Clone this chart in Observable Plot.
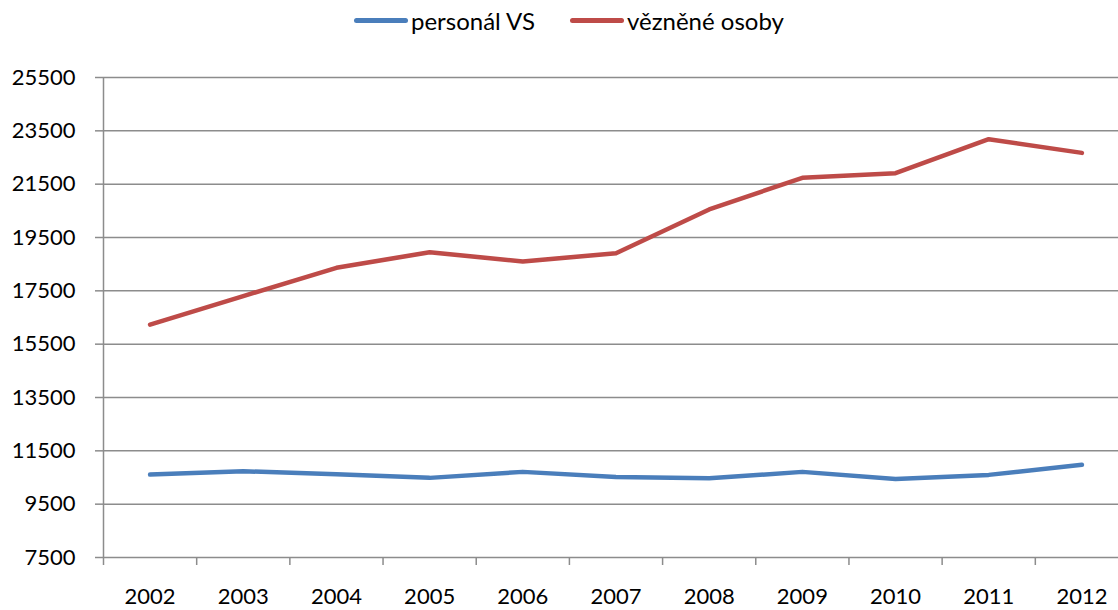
<!DOCTYPE html>
<html>
<head>
<meta charset="utf-8">
<script src="https://cdn.jsdelivr.net/npm/d3@7"></script>
<script src="https://cdn.jsdelivr.net/npm/@observablehq/plot@0.6"></script>
<style>
  html, body { margin: 0; padding: 0; background: #fff; overflow: hidden; width: 1118px; height: 610px; }
  #legend { height: 44px; display: flex; align-items: center; padding-left: 354px; padding-bottom: 4px; font-family: Lato, sans-serif; font-size: 24px; color: #000; box-sizing: border-box; }
  .item { display: flex; align-items: center; margin-right: 35px; }
  .sw { width: 54px; height: 5px; border-radius: 2.5px; margin-right: 3px; }
  #chart { width: 1118px; overflow: hidden; }
  #chart svg { display: block; max-width: none !important; }
</style>
</head>
<body>
<div id="legend"></div>
<div id="chart"></div>
<script>
const years = [2002, 2003, 2004, 2005, 2006, 2007, 2008, 2009, 2010, 2011, 2012];
const personal = [10610, 10734, 10621, 10486, 10711, 10523, 10471, 10711, 10448, 10598, 10974];
const vezneni = [16230, 17305, 18364, 18950, 18600, 18912, 20552, 21740, 21913, 23188, 22674];
const seriesNames = ["personál VS", "vězněné osoby"];
const seriesColors = ["#4A7EBB", "#BE4B48"];
const yTicks = [7500, 9500, 11500, 13500, 15500, 17500, 19500, 21500, 23500, 25500];

const data = [];
years.forEach((y, i) => {
  data.push({year: y, value: personal[i], series: seriesNames[0]});
  data.push({year: y, value: vezneni[i], series: seriesNames[1]});
});

const legend = document.getElementById("legend");
seriesNames.forEach((name, i) => {
  const it = document.createElement("div");
  it.className = "item";
  const sw = document.createElement("div");
  sw.className = "sw";
  sw.style.background = seriesColors[i];
  const tx = document.createElement("span");
  tx.textContent = name;
  it.appendChild(sw); it.appendChild(tx);
  legend.appendChild(it);
});

const boundaries = years.map(y => y - 0.5);

const chart = Plot.plot({
  width: 1128,
  height: 566,
  marginLeft: 103,
  marginRight: 0,
  marginTop: 33,
  marginBottom: 53,
  style: {fontFamily: "Lato, sans-serif", fontSize: "22px", color: "#000", background: "#fff", maxWidth: "none"},
  x: {type: "linear", domain: [years[0] - 0.5, years[years.length - 1] + 0.5]},
  y: {domain: [yTicks[0], yTicks[yTicks.length - 1]]},
  color: {domain: seriesNames, range: seriesColors},
  marks: [
    Plot.gridY(yTicks, {stroke: "#8c8c8c", strokeOpacity: 1, strokeWidth: 1.5}),
    Plot.axisY(yTicks, {tickSize: 8, tickPadding: 20, tickFormat: d => String(d), stroke: "#8c8c8c", strokeWidth: 1.5, label: null, fill: "#000"}),
    Plot.ruleX([years[0] - 0.5], {stroke: "#8c8c8c", strokeWidth: 1.5}),
    Plot.axisX(boundaries, {tickSize: 8, tickFormat: () => "", stroke: "#8c8c8c", strokeWidth: 1.5, label: null}),
    Plot.axisX(years, {tickSize: 0, tickPadding: 31, tickFormat: d => String(d), label: null, fill: "#000"}),
    Plot.lineY(data, {x: "year", y: "value", stroke: "series", z: "series", strokeWidth: 4.5, strokeLinecap: "round", strokeLinejoin: "round"})
  ]
});
document.getElementById("chart").appendChild(chart);
</script>
</body>
</html>
